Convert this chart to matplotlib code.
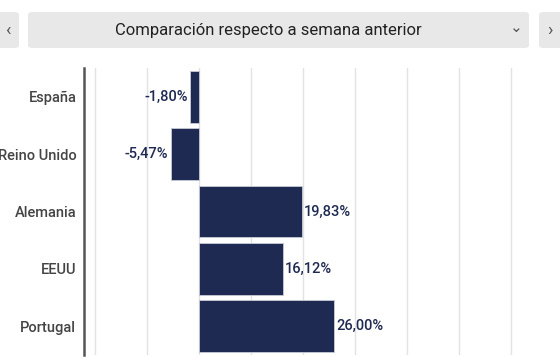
import matplotlib.pyplot as plt
from matplotlib.patches import FancyBboxPatch

plt.rcParams['font.family'] = ['Roboto', 'DejaVu Sans']

paises = ["España", "Reino Unido", "Alemania", "EEUU", "Portugal"]
variacion = [-1.80, -5.47, 19.83, 16.12, 26.00]
titulo = "Comparación respecto a semana anterior"

W, H = 560, 357
fig = plt.figure(figsize=(W / 100, H / 100), dpi=100)

# header controls (drawn in pixel-like figure coords)
def caja(x0, y0, x1, y1):
    fig.patches.append(FancyBboxPatch(
        (x0 / W, 1 - y1 / H), (x1 - x0) / W, (y1 - y0) / H,
        boxstyle="round,pad=0,rounding_size=0.008", transform=fig.transFigure,
        facecolor="#e8e8e8", edgecolor="none"))

caja(-5, 12, 19, 48)
caja(28, 12, 529, 48)
caja(539, 12, 565, 48)
fig.text(268 / W, 1 - 30 / H, titulo, ha="center", va="center", fontsize=12, color="#222222")
fig.text(8 / W, 1 - 30 / H, "‹", ha="center", va="center", fontsize=13, color="#555555")
fig.text(550 / W, 1 - 30 / H, "›", ha="center", va="center", fontsize=13, color="#555555")
fig.text(516 / W, 1 - 28 / H, "⌄", ha="center", va="center", fontsize=11, color="#555555",
         family=["DejaVu Sans"])

ax = fig.add_axes([84 / W, 2 / H, 1 - 84 / W, (355 - 68) / H])
y = list(range(len(paises)))
ax.barh(y, variacion, height=0.9, color="#1f2a52", edgecolor="#c8ccd6", linewidth=0.6, zorder=3)
ax.set_xlim(-22.1, 69.4)
ax.set_ylim(len(paises) - 0.5, -0.5)
ax.set_xticks(range(-20, 70, 10))
ax.set_xticklabels([])
ax.tick_params(axis="x", length=0)
ax.tick_params(axis="y", length=0, pad=5.5)
ax.set_yticks(y)
ax.set_yticklabels(paises, fontsize=10.5, color="#444444", fontweight="medium")
ax.grid(axis="x", color="#e2e2e2", linewidth=1, zorder=0)
for s in ["top", "right", "bottom"]:
    ax.spines[s].set_visible(False)
ax.spines["left"].set_color("#555555")
ax.spines["left"].set_linewidth(1.8)

for yi, v in zip(y, variacion):
    txt = f"{v:.2f}%".replace(".", ",")
    if v < 0:
        ax.text(v - 0.4, yi, txt, ha="right", va="center", fontsize=10.5, color="#1f2a52",
                fontweight="medium", zorder=4)
    else:
        ax.text(v + 0.4, yi, txt, ha="left", va="center", fontsize=10.5, color="#1f2a52",
                fontweight="medium", zorder=4)

fig.savefig("out.png", dpi=100)
